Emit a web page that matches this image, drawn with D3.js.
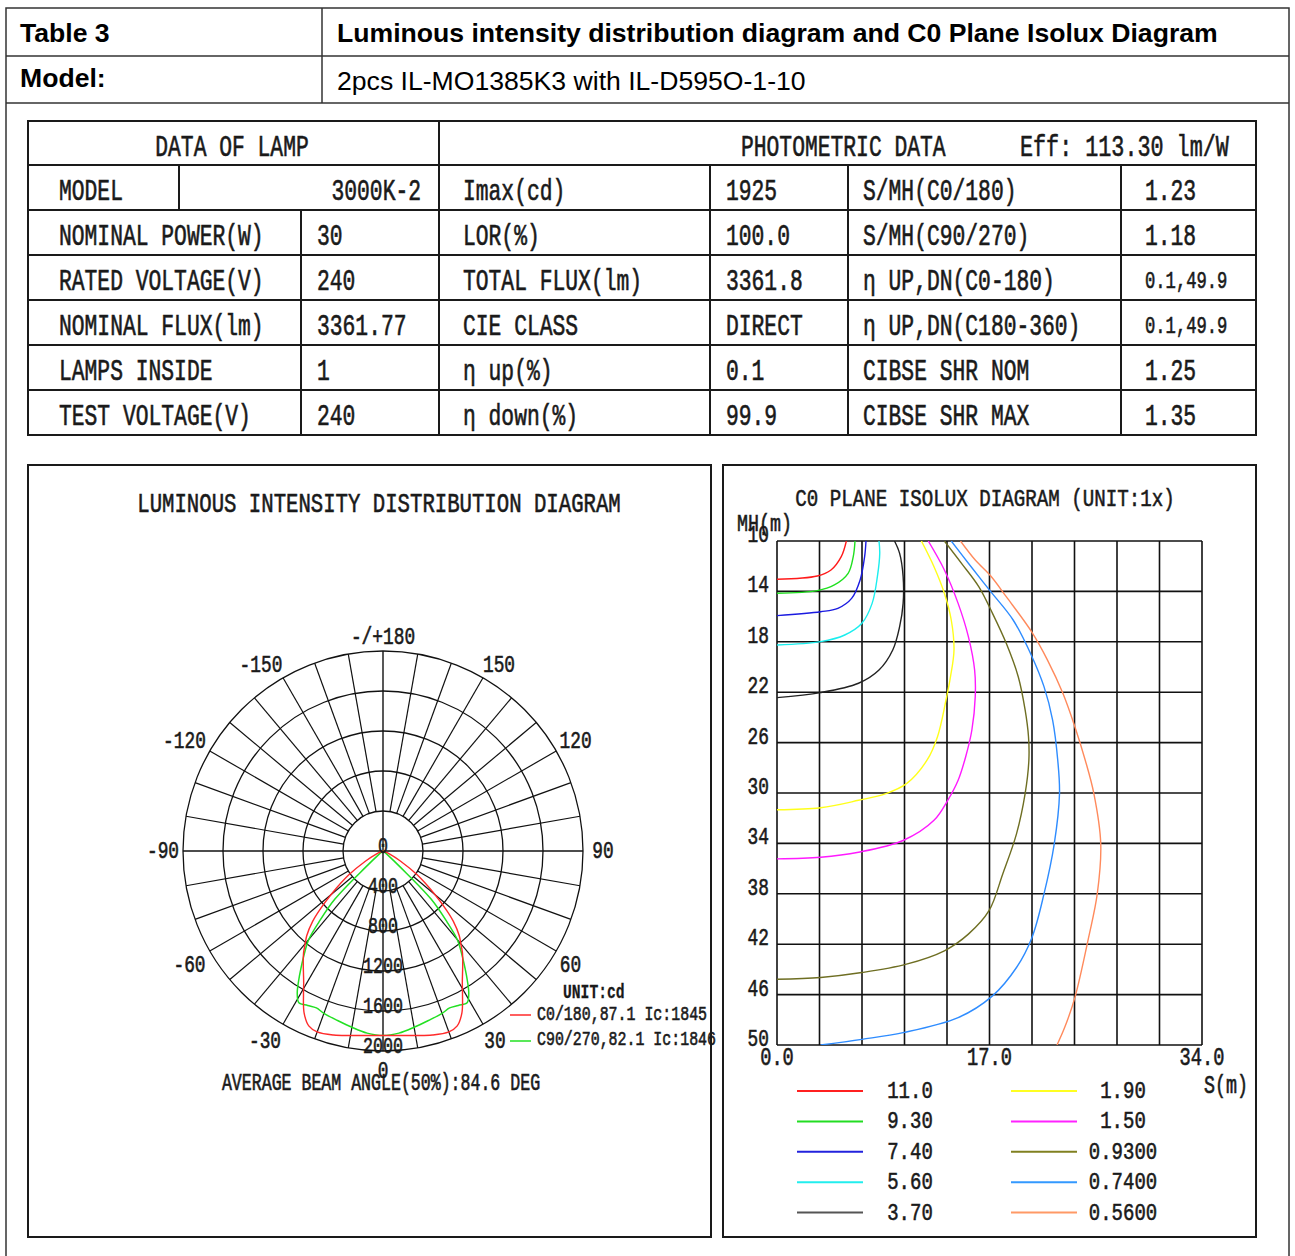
<!DOCTYPE html>
<html>
<head>
<meta charset="utf-8">
<script src="https://cdn.jsdelivr.net/npm/d3@7"></script>
<style>
    body { margin: 0; background: #fff; }
</style>
</head>
<body>
<div id="chart"></div>
<script>
// header table
var headerTitle = ["Table 3", "Luminous intensity distribution diagram and C0 Plane Isolux Diagram"];
var headerModel = ["Model:", "2pcs IL-MO1385K3 with IL-D595O-1-10"];

// lamp + photometric table
var lampModel = "3000K-2";
var effValue = "113.30";
var lampLabels = ["NOMINAL POWER(W)", "RATED VOLTAGE(V)", "NOMINAL FLUX(lm)", "LAMPS INSIDE", "TEST VOLTAGE(V)"];
var lampValues = ["30", "240", "3361.77", "1", "240"];
var photoLabels = ["Imax(cd)", "LOR(%)", "TOTAL FLUX(lm)", "CIE CLASS", "η up(%)", "η down(%)"];
var photoValues = ["1925", "100.0", "3361.8", "DIRECT", "0.1", "99.9"];
var shrLabels = ["S/MH(C0/180)", "S/MH(C90/270)", "η UP,DN(C0-180)", "η UP,DN(C180-360)", "CIBSE SHR NOM", "CIBSE SHR MAX"];
var shrValues = ["1.23", "1.18", "0.1,49.9", "0.1,49.9", "1.25", "1.35"];

// polar diagram (gamma in degrees from nadir, intensity in cd)
var polarAngles = [0, 5, 10, 15, 20, 23, 26, 29, 31, 33, 35, 38, 40, 42, 45, 47, 50, 55, 60, 65, 70, 80, 90];
var c0Values    = [1845, 1852, 1873, 1905, 1925, 1900, 1800, 1640, 1540, 1460, 1390, 1290, 1210, 1140, 995, 870, 680, 420, 200, 75, 25, 4, 0];
var c90Values   = [1846, 1828, 1790, 1755, 1728, 1705, 1718, 1735, 1665, 1550, 1430, 1265, 1155, 960, 680, 240, 60, 15, 5, 2, 0, 0, 0];
var ringValues = [0, 400, 800, 1200, 1600, 2000];
var angleTicks = [0, 30, 60, 90, 120, 150, 180, -150, -120, -90, -60, -30];
var polarLegend = ["C0/180,87.1 Ic:1845", "C90/270,82.1 Ic:1846"];
var beamText = "AVERAGE BEAM ANGLE(50%):84.6 DEG";

// isolux diagram: [S (m), MH (m)]
var isoLevels = ["11.0", "9.30", "7.40", "5.60", "3.70", "1.90", "1.50", "0.9300", "0.7400", "0.5600"];
var iso110 = [[5.55, 10], [5.14, 11.24], [4.32, 12.3], [3.22, 12.78], [0, 13.04]];
var iso93 = [[6.24, 10], [6.1, 11.24], [5.69, 12.57], [4.59, 13.49], [3.22, 13.94], [0, 14.15]];
var iso74 = [[7.12, 10], [7.01, 11.24], [6.65, 13.09], [5.97, 14.55], [4.87, 15.34], [3.49, 15.61], [0, 15.92]];
var iso56 = [[8.16, 10], [8.22, 10.98], [8.03, 12.83], [7.61, 14.95], [6.79, 16.53], [5.42, 17.46], [3.49, 17.99], [0, 18.25]];
var iso37 = [[9.4, 10], [9.81, 10.98], [10.09, 12.83], [10.09, 14.95], [9.81, 16.8], [9.26, 18.65], [8.16, 20.24], [6.52, 21.29], [3.49, 22.03], [0, 22.43]];
var iso19 = [[11.55, 10], [12.56, 12.04], [13.39, 14.15], [13.94, 16.27], [14.16, 18.65], [13.88, 20.77], [13.52, 22.62], [12.84, 25.53], [12.0, 27.4], [10.36, 29.26], [8.71, 30.05], [6.52, 30.58], [3.49, 31.17], [0, 31.33]];
var iso15 = [[12.1, 10], [13.39, 12.3], [14.49, 14.95], [15.31, 17.59], [15.81, 20.24], [15.86, 22.35], [15.59, 25], [15.1, 27.1], [14.49, 28.99], [13.66, 30.58], [12.56, 32.17], [10.09, 33.77], [6.52, 34.7], [3.49, 35.1], [0, 35.23]];
var iso093 = [[13.39, 10], [14.76, 11.77], [16.14, 13.62], [17.24, 15.74], [18.34, 18.12], [19.3, 20.77], [19.85, 23.41], [20.12, 25.53], [20.15, 27.4], [19.85, 30.05], [19.16, 33.24], [18.06, 36.42], [16.96, 39.34], [15.31, 41.2], [13.39, 42.52], [10.36, 43.58], [6.79, 44.25], [3.49, 44.64], [0, 44.78]];
var iso074 = [[13.94, 10], [15.31, 11.77], [17.1, 14.02], [18.89, 16.27], [20.4, 19.18], [21.36, 21.56], [22.05, 24.21], [22.46, 27.4], [22.6, 30.05], [22.18, 34.03], [21.36, 38.01], [20.4, 41.46], [19.16, 43.85], [17.24, 46.1], [14.49, 47.83], [10.09, 49.02], [6.79, 49.55], [3.49, 50]];
var iso056 = [[14.68, 10], [15.86, 11.51], [17.1, 12.78], [18.34, 14.42], [20.4, 17.25], [21.64, 19.45], [22.87, 22.09], [23.83, 24.74], [24.66, 27.4], [25.35, 30.05], [25.9, 34.03], [25.62, 38.01], [24.93, 41.46], [23.83, 46.24], [23.01, 48.62], [22.4, 50]];
var isoCurves = [iso110, iso93, iso74, iso56, iso37, iso19, iso15, iso093, iso074, iso056];
var isoYTicks = [10, 14, 18, 22, 26, 30, 34, 38, 42, 46, 50];
var isoXLabels = [0, 17, 34];

var isoColors = ["#ff1a1a", "#1fe01f", "#1a1ae0", "#1aeeee", "#222222", "#ffff1a", "#ff1aff", "#6e6e22", "#2e8cff", "#ff8a5c"];
var isoLegendColors = ["#ff2020", "#22dd22", "#2222dd", "#22eeee", "#555555", "#ffff22", "#ff22ff", "#808020", "#3399ff", "#ff9966"];

function init() {
    var w = 1295;
    var h = 1256;
    var ink = "#1a1a1a";

    var svg = d3.select("#chart")
        .append("svg")
        .attr("width", w)
        .attr("height", h)
        .style("display", "block");

    svg.append("rect").attr("width", w).attr("height", h).attr("fill", "#fff");

    // condensed serif-like text (imitates the CJK latin font of the original)
    function mono(g, str, x, y, cw, cap, anchor, weight) {
        var fs = cw / 0.6;
        var sy = cap / (0.571 * fs);
        return g.append("text")
            .attr("transform", "translate(" + x + "," + y + ") scale(1," + sy.toFixed(3) + ")")
            .attr("font-family", "'Liberation Mono', monospace")
            .attr("font-size", fs.toFixed(2) + "px")
            .attr("font-weight", weight || "normal")
            .attr("text-anchor", anchor || "start")
            .attr("fill", ink)
            .attr("stroke", ink)
            .attr("stroke-width", weight ? 0.2 : 0.45)
            .text(str);
    }

    function line(g, x1, y1, x2, y2, sw, col) {
        g.append("line")
            .attr("x1", x1).attr("y1", y1).attr("x2", x2).attr("y2", y2)
            .attr("stroke", col || ink)
            .attr("stroke-width", sw || 1.5);
    }

    // ---------- outer header table ----------
    var head = svg.append("g");
    head.append("rect")
        .attr("x", 6).attr("y", 8).attr("width", 1283).attr("height", 1260)
        .attr("fill", "none").attr("stroke", "#333").attr("stroke-width", 1.5);
    line(head, 6, 56, 1289, 56, 1.5, "#333");
    line(head, 6, 103, 1289, 103, 1.5, "#333");
    line(head, 322, 8, 322, 103, 1.5, "#333");

    head.selectAll("text.title")
        .data(headerTitle)
        .enter()
        .append("text")
        .attr("x", function (d, i) { return i === 0 ? 20 : 337; })
        .attr("y", 42)
        .attr("font-family", "'Liberation Sans', Arial, sans-serif")
        .attr("font-size", "26.6px")
        .attr("font-weight", "bold")
        .attr("fill", "#000")
        .text(function (d) { return d; });

    head.selectAll("text.model")
        .data(headerModel)
        .enter()
        .append("text")
        .attr("x", function (d, i) { return i === 0 ? 20 : 337; })
        .attr("y", function (d, i) { return i === 0 ? 87 : 90; })
        .attr("font-family", "'Liberation Sans', Arial, sans-serif")
        .attr("font-size", "26.6px")
        .attr("font-weight", function (d, i) { return i === 0 ? "bold" : "normal"; })
        .attr("fill", "#000")
        .text(function (d) { return d; });

    // ---------- data table ----------
    var tbl = svg.append("g");
    var rowsY = [121, 165, 210, 255, 300, 345, 390, 435];
    var tx0 = 28, tx1 = 1256;
    var cw = 12.8, cap = 16.5;

    tbl.append("rect")
        .attr("x", tx0).attr("y", rowsY[0]).attr("width", tx1 - tx0).attr("height", rowsY[7] - rowsY[0])
        .attr("fill", "none").attr("stroke", ink).attr("stroke-width", 2);
    rowsY.slice(1, 7).forEach(function (y) { line(tbl, tx0, y, tx1, y, 2); });
    line(tbl, 439, rowsY[0], 439, rowsY[7], 2);
    line(tbl, 179, rowsY[1], 179, rowsY[2], 2);
    line(tbl, 301, rowsY[2], 301, rowsY[7], 2);
    [710, 848, 1121].forEach(function (x) { line(tbl, x, rowsY[1], x, rowsY[7], 2); });

    mono(tbl, "DATA OF LAMP", 232, rowsY[0] + 35, cw, cap, "middle");
    mono(tbl, "PHOTOMETRIC DATA", 741, rowsY[0] + 35, cw, cap);
    mono(tbl, "Eff: " + effValue + " lm/W", 1020, rowsY[0] + 35, cw * 1.02, cap);

    mono(tbl, "MODEL", 59, rowsY[1] + 35, cw, cap);
    mono(tbl, lampModel, 421, rowsY[1] + 35, cw, cap, "end");

    lampLabels.forEach(function (d, i) {
        mono(tbl, d, 59, rowsY[i + 2] + 35, cw, cap);
        mono(tbl, lampValues[i], 317, rowsY[i + 2] + 35, cw, cap);
    });
    photoLabels.forEach(function (d, i) {
        mono(tbl, d, 463, rowsY[i + 1] + 35, cw, cap);
        mono(tbl, photoValues[i], 726, rowsY[i + 1] + 35, cw, cap);
    });
    shrLabels.forEach(function (d, i) {
        mono(tbl, d, 863, rowsY[i + 1] + 35, cw, cap);
        var small = shrValues[i].length > 5;
        mono(tbl, shrValues[i], 1145, rowsY[i + 1] + (small ? 33 : 35), small ? 10.3 : cw, small ? 13.5 : cap);
    });

    // ---------- polar panel ----------
    var pp = svg.append("g");
    pp.append("rect")
        .attr("x", 28).attr("y", 465).attr("width", 683).attr("height", 772)
        .attr("fill", "none").attr("stroke", ink).attr("stroke-width", 2);
    mono(pp, "LUMINOUS INTENSITY DISTRIBUTION DIAGRAM", 379, 512, 12.4, 16, "middle");

    var cx = 383, cy = 851;
    var r = d3.scaleLinear().domain([0, 2000]).range([0, 200]);
    var pg = pp.append("g").attr("transform", "translate(" + cx + "," + cy + ")");

    pg.selectAll("circle.ring")
        .data(ringValues.slice(1))
        .enter()
        .append("circle")
        .attr("r", function (d) { return r(d); })
        .attr("fill", "none")
        .attr("stroke", "#111")
        .attr("stroke-width", 1.3);

    var spokes = d3.range(0, 360, 10).filter(function (a) { return a % 90 !== 0; });
    pg.selectAll("line.spoke")
        .data(spokes)
        .enter()
        .append("line")
        .attr("x1", function (a) { return Math.sin(a * Math.PI / 180) * r(400); })
        .attr("y1", function (a) { return Math.cos(a * Math.PI / 180) * r(400); })
        .attr("x2", function (a) { return Math.sin(a * Math.PI / 180) * r(2000); })
        .attr("y2", function (a) { return Math.cos(a * Math.PI / 180) * r(2000); })
        .attr("stroke", "#111")
        .attr("stroke-width", 1.2);
    line(pg, -r(2000), 0, r(2000), 0, 1.4, "#111");
    line(pg, 0, -r(2000), 0, r(2000), 1.4, "#111");

    // intensity curves, mirrored for both half planes
    function fullCurve(vals) {
        var pts = [];
        for (var i = polarAngles.length - 1; i > 0; i--) pts.push({ a: -polarAngles[i], v: vals[i] });
        for (var j = 0; j < polarAngles.length; j++) pts.push({ a: polarAngles[j], v: vals[j] });
        return pts;
    }
    var radial = d3.lineRadial()
        .angle(function (d) { return Math.PI - d.a * Math.PI / 180; })
        .radius(function (d) { return r(d.v); })
        .curve(d3.curveCatmullRom);

    pg.append("path")
        .attr("d", radial(fullCurve(c90Values)))
        .attr("fill", "none").attr("stroke", "#22e022").attr("stroke-width", 1.5);
    pg.append("path")
        .attr("d", radial(fullCurve(c0Values)))
        .attr("fill", "none").attr("stroke", "#ff2a2a").attr("stroke-width", 1.4);

    // ring labels
    ringValues.forEach(function (v) {
        mono(pg, String(v), 0, r(v) + 2, 10, 13, "middle");
    });
    // angle labels (small nudges to sit like the original)
    var nudge = { "150": [6, 5], "-150": [-12, 5], "-120": [-8, 0], "-60": [-3, 4], "-30": [-8, 0], "120": [2, 0], "60": [-3, 4], "30": [2, 0] };
    angleTicks.forEach(function (a) {
        var rad = a * Math.PI / 180;
        var rr = a === 180 ? 214 : 220;
        var lbl = a === 180 ? "-/+180" : String(a);
        var n = nudge[lbl] || [0, 0];
        mono(pg, lbl, Math.sin(rad) * rr + n[0], Math.cos(rad) * rr + 6.5 + n[1], 10.7, 13.5, "middle");
    });

    mono(pp, beamText, 381, 1090, 9.95, 13.3, "middle");

    // legend
    mono(pp, "UNIT:cd", 563, 998, 8.8, 11.5, "start", "bold");
    line(pp, 510, 1015, 531, 1015, 1.5, "#ff2a2a");
    line(pp, 510, 1041, 531, 1041, 1.5, "#22e022");
    polarLegend.forEach(function (d, i) {
        mono(pp, d, 537, 1020 + i * 25, 8.95, 11.5);
    });

    // ---------- isolux panel ----------
    var ip = svg.append("g");
    ip.append("rect")
        .attr("x", 723).attr("y", 465).attr("width", 533).attr("height", 772)
        .attr("fill", "none").attr("stroke", ink).attr("stroke-width", 2);
    mono(ip, "C0 PLANE ISOLUX DIAGRAM (UNIT:1x)", 985, 506, 11.5, 14, "middle");

    var x = d3.scaleLinear().domain([0, 34]).range([777, 1202]);
    var y = d3.scaleLinear().domain([10, 50]).range([541, 1045]);

    var xGrid = d3.range(0, 11).map(function (i) { return i * 3.4; });
    ip.selectAll("line.vg")
        .data(xGrid)
        .enter()
        .append("line")
        .attr("x1", function (d) { return x(d); })
        .attr("x2", function (d) { return x(d); })
        .attr("y1", y(10)).attr("y2", y(50))
        .attr("stroke", "#111").attr("stroke-width", 1.6);
    ip.selectAll("line.hg")
        .data(isoYTicks)
        .enter()
        .append("line")
        .attr("y1", function (d) { return y(d); })
        .attr("y2", function (d) { return y(d); })
        .attr("x1", x(0)).attr("x2", x(34))
        .attr("stroke", "#111").attr("stroke-width", 1.6);

    ip.append("clipPath").attr("id", "isoclip")
        .append("rect").attr("x", x(0)).attr("y", y(10)).attr("width", x(34) - x(0)).attr("height", y(50) - y(10));

    var isoLine = d3.line()
        .x(function (d) { return x(d[0]); })
        .y(function (d) { return y(d[1]); })
        .curve(d3.curveCatmullRom);

    ip.append("g").attr("clip-path", "url(#isoclip)")
        .selectAll("path")
        .data(isoCurves)
        .enter()
        .append("path")
        .attr("d", function (d) { return isoLine(d); })
        .attr("fill", "none")
        .attr("stroke", function (d, i) { return isoColors[i]; })
        .attr("stroke-width", 1.4);

    isoYTicks.forEach(function (v) {
        mono(ip, String(v), 769, y(v) + 1, 10.7, 13.5, "end");
    });
    mono(ip, "MH(m)", 737, 531, 11, 13.5);
    isoXLabels.forEach(function (v) {
        mono(ip, v.toFixed(1), x(v), 1065, 11.2, 14.5, "middle");
    });
    mono(ip, "S(m)", 1226, 1093, 11, 14.5, "middle");

    // isolux legend
    isoLevels.forEach(function (d, i) {
        var col = Math.floor(i / 5), row = i % 5;
        var ly = 1091 + row * 30.4;
        var lx = col === 0 ? 797 : 1011;
        line(ip, lx, ly, lx + 66, ly, 2, isoLegendColors[i]);
        mono(ip, d, col === 0 ? 910 : 1123, ly + 7, 11.4, 13.5, "middle");
    });
}

window.onload = init;
</script>
</body>
</html>
